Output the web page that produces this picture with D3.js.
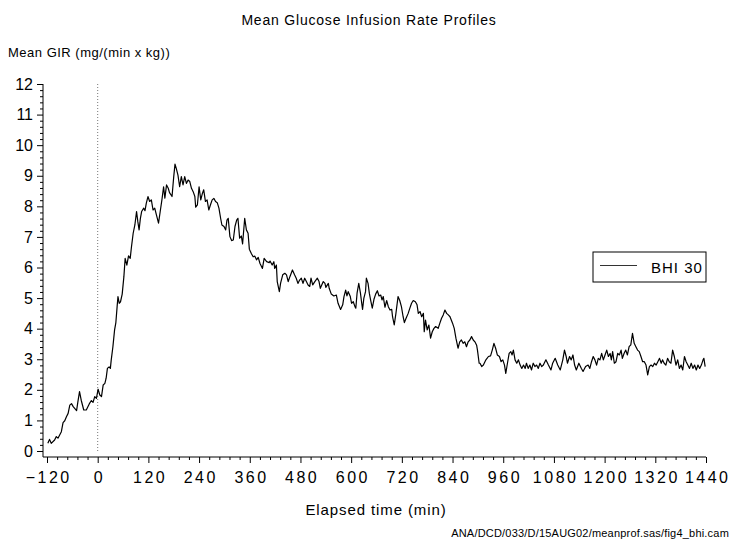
<!DOCTYPE html>
<html>
<head>
<meta charset="utf-8">
<script src="https://cdn.jsdelivr.net/npm/d3@7"></script>
<style>
  body { margin: 0; background: #fff; }
  svg { display: block; font-family: 'Liberation Sans', Arial, sans-serif; }
</style>
</head>
<body>
<div id="chart"></div>
<script>
// elapsed time (min) and mean GIR (mg/(min x kg))
const times = [
  -118, -114, -110, -102, -98, -94, -86, -82, -78, -74, -70, -66, -62, -58, -50, -47, -43, -39, -33, -27,
  -20, -15, -11, -7, -3, 1, 5, 9, 13, 17, 20, 23, 27, 30, 32, 36, 40, 43, 46, 48,
  51, 54, 58, 62, 65, 69, 73, 77, 80, 84, 88, 92, 95, 98, 101, 104, 109, 112, 115, 119,
  123, 127, 131, 135, 139, 144, 148, 152, 156, 159, 163, 167, 170, 176, 180, 183, 186, 190, 194, 198,
  202, 206, 210, 214, 218, 222, 226, 230, 232, 236, 240, 244, 248, 251, 255, 259, 263, 267, 271, 275,
  279, 283, 287, 291, 294, 299, 303, 306, 309, 313, 317, 321, 325, 329, 332, 336, 340, 343, 348, 352,
  356, 359, 364, 368, 372, 376, 380, 384, 390, 394, 400, 406, 408, 413, 417, 419, 423, 425, 430, 433,
  438, 443, 447, 451, 455, 461, 466, 470, 474, 478, 482, 486, 490, 494, 498, 502, 505, 509, 514, 520,
  524, 527, 534, 538, 540, 546, 548, 553, 559, 565, 569, 575, 580, 583, 587, 590, 593, 598, 601, 605,
  609, 611, 614, 618, 622, 625, 627, 630, 634, 636, 640, 643, 646, 650, 654, 658, 662, 666, 670, 673,
  676, 680, 684, 688, 692, 696, 698, 702, 706, 711, 715, 719, 723, 726, 730, 735, 739, 743, 747, 752,
  756, 759, 763, 767, 771, 773, 776, 780, 784, 788, 792, 796, 800, 806, 810, 814, 818, 822, 826, 830,
  834, 840, 844, 848, 853, 857, 861, 865, 869, 873, 877, 881, 885, 889, 893, 897, 899, 903, 905, 909,
  913, 919, 925, 930, 934, 938, 942, 946, 951, 955, 959, 963, 966, 970, 974, 978, 981, 984, 988, 992,
  996, 1000, 1004, 1008, 1012, 1015, 1019, 1023, 1027, 1031, 1035, 1039, 1043, 1047, 1051, 1055, 1061, 1067, 1073, 1077,
  1083, 1089, 1095, 1101, 1105, 1109, 1112, 1117, 1121, 1125, 1129, 1133, 1139, 1145, 1149, 1155, 1161, 1165, 1169, 1173,
  1177, 1181, 1185, 1189, 1193, 1197, 1201, 1205, 1209, 1213, 1216, 1219, 1223, 1227, 1231, 1235, 1239, 1242, 1246, 1250,
  1254, 1258, 1262, 1266, 1270, 1274, 1278, 1282, 1286, 1290, 1294, 1298, 1302, 1306, 1310, 1314, 1318, 1322, 1326, 1330,
  1334, 1337, 1341, 1345, 1349, 1353, 1357, 1361, 1365, 1369, 1373, 1377, 1381, 1385, 1389, 1393, 1397, 1401, 1405, 1409,
  1413, 1417, 1421, 1425, 1429, 1433, 1435, 1438
];
const gir = [
  0.25, 0.38, 0.25, 0.36, 0.47, 0.42, 0.63, 0.93, 0.99, 1.12, 1.23, 1.50, 1.55, 1.45, 1.32, 1.60, 1.94, 1.66, 1.34, 1.34,
  1.54, 1.65, 1.59, 1.78, 1.72, 2.02, 1.83, 1.78, 2.16, 2.21, 2.38, 2.70, 2.75, 2.70, 2.97, 3.41, 3.96, 4.20, 4.72, 5.05,
  4.83, 4.88, 5.13, 5.70, 6.30, 6.08, 6.38, 6.30, 6.68, 7.12, 7.39, 7.83, 7.50, 7.23, 7.60, 7.83, 7.94, 7.86, 8.10, 8.32,
  8.16, 8.21, 7.88, 7.94, 7.72, 7.45, 7.83, 8.21, 8.64, 8.27, 8.70, 8.59, 8.45, 8.32, 8.97, 9.38, 9.24, 9.02, 8.64, 8.97,
  8.70, 8.97, 8.75, 8.86, 8.81, 8.59, 8.48, 8.32, 7.97, 8.05, 8.64, 8.21, 8.43, 8.54, 8.16, 8.21, 7.88, 8.05, 8.21, 8.26,
  8.16, 8.12, 7.94, 7.61, 7.39, 7.34, 7.23, 7.55, 7.61, 7.01, 6.88, 6.90, 7.34, 7.55, 7.61, 6.96, 7.03, 6.77, 7.61, 7.23,
  7.12, 6.60, 6.45, 6.35, 6.37, 6.25, 6.33, 6.14, 5.97, 6.30, 6.19, 6.16, 6.21, 6.08, 6.19, 5.97, 6.08, 5.54, 5.21, 5.49,
  5.76, 5.81, 5.76, 5.54, 5.70, 5.92, 5.76, 5.65, 5.48, 5.59, 5.65, 5.48, 5.65, 5.54, 5.43, 5.38, 5.65, 5.43, 5.54, 5.65,
  5.54, 5.32, 5.54, 5.48, 5.35, 5.48, 5.32, 5.13, 5.07, 5.10, 4.83, 4.63, 4.78, 5.05, 5.26, 5.07, 5.21, 5.05, 4.83, 4.88,
  4.72, 4.67, 5.16, 5.48, 5.16, 4.83, 4.63, 4.99, 5.21, 5.65, 5.48, 5.16, 4.94, 4.67, 4.96, 5.13, 5.24, 5.07, 5.10, 4.94,
  5.05, 4.70, 4.92, 4.72, 4.61, 4.63, 4.39, 4.12, 4.50, 5.05, 4.92, 4.72, 4.39, 4.20, 4.34, 4.50, 4.67, 4.83, 4.92, 4.88,
  4.78, 4.50, 4.56, 4.39, 4.50, 3.90, 4.28, 3.96, 4.12, 3.69, 3.90, 4.01, 4.07, 4.01, 4.18, 4.34, 4.45, 4.61, 4.50, 4.45,
  4.39, 4.18, 4.01, 3.69, 3.36, 3.57, 3.63, 3.52, 3.57, 3.41, 3.57, 3.63, 3.74, 3.63, 3.57, 3.46, 3.30, 2.87, 2.87, 2.76,
  2.81, 2.98, 3.09, 3.11, 3.30, 3.52, 3.36, 3.14, 3.09, 2.92, 2.98, 2.81, 2.54, 2.87, 3.19, 3.25, 3.14, 3.30, 2.98, 2.87,
  2.98, 2.81, 2.70, 2.81, 2.70, 2.87, 2.70, 2.81, 2.65, 2.87, 2.76, 2.81, 2.70, 2.87, 2.76, 2.81, 2.98, 2.81, 2.65, 2.87,
  3.03, 2.81, 2.65, 2.98, 3.30, 3.09, 2.87, 3.09, 2.98, 3.14, 2.81, 2.65, 2.87, 2.70, 2.60, 2.76, 2.81, 2.70, 2.92, 3.09,
  2.98, 2.81, 3.03, 2.98, 3.19, 2.98, 3.14, 3.30, 3.09, 3.19, 2.98, 3.25, 2.87, 2.92, 3.19, 3.14, 3.30, 3.03, 3.19, 3.30,
  3.14, 3.41, 3.47, 3.85, 3.52, 3.41, 3.30, 3.25, 3.09, 2.92, 2.92, 2.81, 2.49, 2.76, 2.81, 2.76, 2.87, 2.81, 2.92, 3.03,
  2.87, 2.98, 2.87, 2.81, 3.03, 2.92, 2.87, 3.30, 3.09, 2.81, 2.98, 2.70, 2.81, 2.65, 3.09, 2.92, 2.81, 2.70, 2.87, 2.70,
  2.81, 2.65, 2.81, 2.70, 2.81, 2.98, 3.03, 2.76
];
const xTicks = [-120, 0, 120, 240, 360, 480, 600, 720, 840, 960, 1080, 1200, 1320, 1440];
const yTicks = [0, 1, 2, 3, 4, 5, 6, 7, 8, 9, 10, 11, 12];
const seriesName = 'BHI 30';

const width = 729;
const height = 539;
const axisLeftX = 43;
const axisBottomY = 457;

const x = d3.scaleLinear().domain([-120, 1440]).range([47, 706]);
const y = d3.scaleLinear().domain([0, 12]).range([451, 84]);

const svg = d3.select('#chart').append('svg')
  .attr('width', width)
  .attr('height', height);

svg.append('text')
  .attr('x', 369)
  .attr('y', 25)
  .attr('text-anchor', 'middle')
  .style('font-size', '14px')
  .style('letter-spacing', '0.8px')
  .text('Mean Glucose Infusion Rate Profiles');

svg.append('text')
  .attr('x', 8)
  .attr('y', 57)
  .style('font-size', '13px')
  .style('letter-spacing', '0.5px')
  .text('Mean GIR (mg/(min x kg))');

// minor ticks first, then the major ones
const yMinor = d3.range(0, 12.01, 0.2).filter((d) => Math.abs(d - Math.round(d)) > 0.01);
const xMinor = d3.range(-120, 1441, 24).filter((d) => d % 120 !== 0);

svg.append('g')
  .attr('transform', `translate(${axisLeftX},0)`)
  .call(d3.axisLeft(y).tickValues(yMinor).tickSize(3).tickFormat(''))
  .call((g) => g.select('.domain').remove());

const yAxis = svg.append('g')
  .attr('transform', `translate(${axisLeftX},0)`)
  .call(d3.axisLeft(y).tickValues(yTicks).tickSize(6).tickPadding(4).tickFormat(d3.format('d')));
yAxis.select('.domain').remove();
yAxis.selectAll('text')
  .style('font-size', '16px')
  .style('font-family', "'Liberation Sans', Arial, sans-serif");

svg.append('g')
  .attr('transform', `translate(0,${axisBottomY})`)
  .call(d3.axisBottom(x).tickValues(xMinor).tickSize(3).tickFormat(''))
  .call((g) => g.select('.domain').remove());

const xAxis = svg.append('g')
  .attr('transform', `translate(0,${axisBottomY})`)
  .call(d3.axisBottom(x).tickValues(xTicks).tickSize(6).tickPadding(9)
    .tickFormat((d) => d < 0 ? '\u2212' + Math.abs(d) : d));
xAxis.select('.domain').remove();
xAxis.selectAll('text')
  .style('font-size', '16px')
  .style('letter-spacing', '2.5px')
  .attr('dx', '1.2px')
  .style('font-family', "'Liberation Sans', Arial, sans-serif");

// axis lines meet in the corner
svg.append('path')
  .attr('d', `M${axisLeftX},${y(12)}V${axisBottomY}H${x(1440)}`)
  .attr('fill', 'none')
  .attr('stroke', '#000');

svg.append('text')
  .attr('x', 376)
  .attr('y', 515)
  .attr('text-anchor', 'middle')
  .style('font-size', '15px')
  .style('letter-spacing', '0.9px')
  .text('Elapsed time (min)');

// reference line at time 0
svg.append('line')
  .attr('x1', x(0)).attr('x2', x(0))
  .attr('y1', y(12)).attr('y2', y(0))
  .attr('stroke', '#777')
  .attr('stroke-dasharray', '1,2');

const line = d3.line()
  .x((d, i) => x(times[i]))
  .y((d) => y(d));

svg.append('path')
  .datum(gir)
  .attr('d', line)
  .attr('fill', 'none')
  .attr('stroke', '#000')
  .attr('stroke-width', 1.2)
  .attr('stroke-linejoin', 'round');

// legend
const legend = svg.append('g').attr('transform', 'translate(593,252)');
legend.append('rect')
  .attr('width', 113)
  .attr('height', 30)
  .attr('fill', '#fff')
  .attr('stroke', '#000');
legend.append('line')
  .attr('x1', 7).attr('x2', 44)
  .attr('y1', 13.5).attr('y2', 13.5)
  .attr('stroke', '#333');
legend.append('text')
  .attr('x', 58)
  .attr('y', 21)
  .style('font-size', '15px')
  .style('letter-spacing', '1px')
  .text(seriesName);

svg.append('text')
  .attr('x', 729)
  .attr('y', 537)
  .attr('text-anchor', 'end')
  .style('font-size', '11px')
  .style('letter-spacing', '0.2px')
  .text('ANA/DCD/033/D/15AUG02/meanprof.sas/fig4_bhi.cam');
</script>
</body>
</html>
